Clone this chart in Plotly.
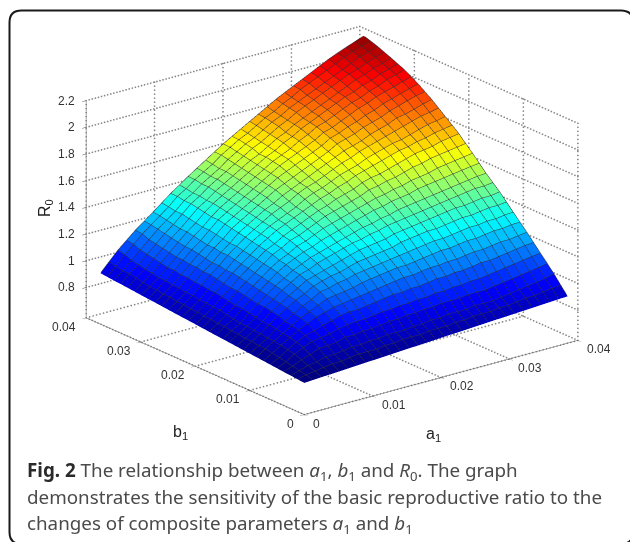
import plotly.graph_objects as go
import numpy as np

a1 = [0,.00128,.00257,.00385,.00513,.00642,.0077,.00898,.01027,.01155,.01283,.01412,.0154,.01668,.01797,.01925,.02053,.02182,.0231,.02438,.02567,.02695,.02823,.02952,.0308,.03208,.03337,.03465,.03593,.03722,.0385]
b1 = [0,.00125,.00249,.00374,.00499,.00623,.00748,.00873,.00997,.01122,.01247,.01371,.01496,.01621,.01745,.0187,.01995,.02119,.02244,.02369,.02493,.02618,.02743,.02867,.02992,.03117,.03241,.03366,.03491,.03615,.0374]
R0 = [
[.81,.814,.818,.821,.825,.829,.833,.837,.84,.844,.848,.852,.856,.859,.863,.867,.871,.875,.878,.882,.886,.89,.894,.897,.901,.905,.909,.913,.916,.92,.924],
[.815,.83,.84,.85,.86,.86,.87,.88,.88,.88,.89,.89,.90,.90,.90,.91,.91,.91,.92,.92,.93,.93,.93,.94,.94,.95,.96,.96,.97,.98,.985],
[.82,.84,.86,.87,.89,.89,.90,.91,.91,.92,.92,.93,.93,.93,.94,.94,.95,.95,.96,.96,.96,.97,.97,.97,.98,.99,1.0,1.01,1.02,1.03,1.047],
[.824,.85,.88,.90,.93,.93,.94,.96,.96,.97,.97,.98,.99,.99,1.0,1.0,1.01,1.01,1.02,1.02,1.02,1.03,1.03,1.03,1.04,1.05,1.06,1.07,1.08,1.09,1.103],
[.829,.86,.90,.93,.96,.97,.98,1.0,1.01,1.02,1.02,1.03,1.04,1.04,1.05,1.05,1.06,1.06,1.07,1.07,1.08,1.08,1.09,1.09,1.10,1.11,1.12,1.13,1.14,1.15,1.158],
[.834,.87,.91,.95,.98,1.0,1.02,1.04,1.06,1.07,1.07,1.08,1.09,1.10,1.11,1.11,1.12,1.12,1.13,1.14,1.14,1.15,1.15,1.16,1.17,1.17,1.18,1.19,1.20,1.21,1.214],
[.839,.88,.92,.96,1.0,1.03,1.06,1.08,1.10,1.11,1.12,1.13,1.14,1.15,1.16,1.17,1.18,1.18,1.19,1.20,1.20,1.21,1.21,1.22,1.23,1.23,1.24,1.25,1.25,1.26,1.269],
[.844,.89,.93,.97,1.01,1.05,1.08,1.11,1.14,1.15,1.16,1.17,1.19,1.20,1.21,1.22,1.23,1.23,1.24,1.25,1.26,1.27,1.27,1.28,1.29,1.29,1.30,1.31,1.31,1.32,1.322],
[.848,.89,.93,.98,1.02,1.06,1.10,1.13,1.17,1.18,1.20,1.21,1.23,1.24,1.25,1.26,1.27,1.28,1.29,1.30,1.31,1.32,1.32,1.33,1.34,1.35,1.35,1.36,1.36,1.37,1.374],
[.853,.90,.94,.99,1.04,1.08,1.12,1.15,1.19,1.21,1.23,1.24,1.26,1.28,1.29,1.30,1.31,1.32,1.34,1.35,1.36,1.37,1.37,1.38,1.39,1.40,1.40,1.41,1.42,1.42,1.428],
[.858,.90,.94,.99,1.05,1.09,1.13,1.17,1.21,1.23,1.25,1.27,1.29,1.31,1.33,1.34,1.35,1.36,1.38,1.39,1.40,1.41,1.42,1.43,1.44,1.45,1.45,1.46,1.47,1.47,1.481],
[.863,.91,.95,1.0,1.06,1.10,1.15,1.19,1.23,1.25,1.28,1.30,1.32,1.34,1.36,1.37,1.39,1.40,1.42,1.43,1.44,1.45,1.46,1.47,1.48,1.49,1.50,1.51,1.52,1.52,1.528],
[.868,.91,.95,1.01,1.06,1.11,1.16,1.20,1.24,1.27,1.30,1.32,1.34,1.36,1.38,1.40,1.42,1.43,1.45,1.46,1.48,1.49,1.50,1.51,1.52,1.53,1.54,1.55,1.56,1.57,1.575],
[.872,.92,.96,1.02,1.07,1.12,1.17,1.22,1.26,1.29,1.32,1.34,1.37,1.39,1.41,1.43,1.45,1.47,1.49,1.50,1.52,1.53,1.54,1.56,1.57,1.58,1.59,1.60,1.61,1.62,1.628],
[.877,.92,.97,1.02,1.08,1.13,1.18,1.23,1.27,1.30,1.34,1.36,1.39,1.42,1.44,1.46,1.48,1.50,1.52,1.54,1.55,1.57,1.58,1.60,1.61,1.62,1.64,1.65,1.66,1.67,1.68],
[.882,.93,.98,1.03,1.09,1.14,1.19,1.24,1.29,1.32,1.36,1.38,1.41,1.44,1.47,1.49,1.51,1.53,1.55,1.58,1.59,1.61,1.62,1.64,1.66,1.67,1.69,1.70,1.71,1.72,1.73],
[.887,.93,.98,1.04,1.09,1.15,1.20,1.25,1.30,1.33,1.37,1.40,1.43,1.46,1.49,1.51,1.54,1.56,1.58,1.61,1.63,1.64,1.66,1.68,1.70,1.72,1.73,1.74,1.76,1.77,1.781],
[.892,.94,.99,1.05,1.10,1.16,1.21,1.26,1.31,1.35,1.39,1.42,1.45,1.48,1.51,1.54,1.56,1.59,1.61,1.64,1.66,1.68,1.70,1.72,1.74,1.75,1.77,1.78,1.80,1.81,1.823],
[.896,.94,.99,1.05,1.11,1.16,1.22,1.27,1.32,1.36,1.40,1.43,1.46,1.49,1.53,1.56,1.58,1.61,1.64,1.66,1.68,1.71,1.73,1.75,1.77,1.78,1.80,1.82,1.84,1.85,1.864],
[.901,.95,1.0,1.06,1.12,1.17,1.23,1.28,1.33,1.37,1.41,1.45,1.48,1.51,1.55,1.58,1.60,1.63,1.66,1.69,1.71,1.74,1.76,1.78,1.80,1.82,1.84,1.86,1.88,1.89,1.906],
[.906,.95,1.0,1.06,1.12,1.17,1.23,1.28,1.34,1.38,1.42,1.46,1.49,1.53,1.56,1.59,1.62,1.65,1.68,1.71,1.74,1.76,1.78,1.81,1.83,1.85,1.88,1.89,1.91,1.93,1.947],
[.911,.96,1.01,1.07,1.13,1.18,1.24,1.29,1.35,1.39,1.43,1.47,1.51,1.55,1.58,1.61,1.64,1.67,1.70,1.73,1.77,1.79,1.81,1.84,1.86,1.88,1.91,1.93,1.95,1.97,1.983],
[.916,.96,1.01,1.07,1.13,1.19,1.24,1.30,1.36,1.40,1.44,1.48,1.52,1.56,1.60,1.63,1.66,1.69,1.72,1.75,1.79,1.81,1.84,1.86,1.89,1.91,1.94,1.96,1.98,2.0,2.019],
[.92,.97,1.02,1.08,1.14,1.20,1.25,1.31,1.37,1.41,1.45,1.49,1.53,1.57,1.61,1.65,1.68,1.71,1.74,1.77,1.81,1.83,1.86,1.89,1.92,1.94,1.97,1.99,2.01,2.03,2.049],
[.925,.97,1.02,1.08,1.14,1.20,1.26,1.31,1.37,1.42,1.46,1.50,1.54,1.58,1.62,1.66,1.69,1.72,1.76,1.79,1.83,1.85,1.88,1.91,1.94,1.96,1.99,2.01,2.04,2.06,2.079],
[.93,.98,1.03,1.09,1.15,1.21,1.27,1.32,1.38,1.43,1.47,1.51,1.55,1.59,1.63,1.67,1.70,1.74,1.77,1.81,1.84,1.87,1.90,1.93,1.96,1.98,2.01,2.03,2.06,2.08,2.101],
[.935,.99,1.04,1.10,1.16,1.22,1.27,1.33,1.39,1.43,1.48,1.52,1.56,1.60,1.64,1.67,1.71,1.75,1.78,1.82,1.85,1.88,1.91,1.94,1.97,2.0,2.03,2.05,2.08,2.10,2.123],
[.94,1.0,1.05,1.11,1.17,1.23,1.28,1.34,1.40,1.44,1.49,1.53,1.57,1.61,1.65,1.69,1.72,1.76,1.80,1.83,1.87,1.90,1.93,1.96,1.99,2.02,2.05,2.07,2.10,2.12,2.144],
[.944,1.0,1.06,1.12,1.18,1.24,1.29,1.34,1.40,1.44,1.49,1.53,1.57,1.62,1.66,1.70,1.73,1.77,1.81,1.84,1.88,1.91,1.94,1.97,2.0,2.03,2.06,2.09,2.12,2.14,2.165],
[.949,1.01,1.08,1.14,1.20,1.25,1.30,1.35,1.41,1.45,1.50,1.54,1.58,1.63,1.67,1.71,1.74,1.78,1.82,1.85,1.89,1.92,1.96,1.99,2.02,2.05,2.08,2.11,2.14,2.16,2.182],
[.954,1.023,1.092,1.149,1.206,1.256,1.305,1.357,1.409,1.455,1.501,1.545,1.588,1.631,1.674,1.712,1.75,1.788,1.825,1.863,1.901,1.934,1.966,1.998,2.03,2.063,2.095,2.122,2.148,2.173,2.198],
]
zticks = [0.8,1,1.2,1.4,1.6,1.8,2,2.2]
ztext = ['0.8','1','1.2','1.4','1.6','1.8','2','2.2']
xyticks = [0,0.01,0.02,0.03,0.04]
xytext = ['0','0.01','0.02','0.03','0.04']
zfloor = 0.573
caption = ["<b><span style='color:#2a2a2a'>Fig. 2</span></b> The relationship between <i>a</i><sub>1</sub>, <i>b</i><sub>1</sub> and <i>R</i><sub>0</sub>. The graph",
           "demonstrates the sensitivity of the basic reproductive ratio to the",
           "changes of composite parameters <i>a</i><sub>1</sub> and <i>b</i><sub>1</sub>"]
W,H=630,542
def jetc(v):
    v=max(0,min(1,v))
    r=np.interp(v,[0,.375,.625,.875,1],[0,0,1,1,.5])
    g=np.interp(v,[0,.125,.375,.625,.875],[0,0,1,1,0])
    b=np.interp(v,[0,.125,.375,.625,1],[.5,1,1,0,0])
    return 'rgb(%d,%d,%d)'%(r*255,g*255,b*255)
Z=np.array(R0); A=np.array(a1); B=np.array(b1)
zmin,zmax=Z.min(),Z.max()
xs=[];ys=[];zs=[];I=[];J=[];K=[];fc=[]
n=len(A);m=len(B)
for j in range(m):
    for i in range(n):
        xs.append(A[i]);ys.append(B[j]);zs.append(Z[j,i])
for j in range(m-1):
    for i in range(n-1):
        p=j*n+i
        c=jetc((Z[j,i]-zmin)/(zmax-zmin))
        I+=[p,p];J+=[p+1,p+n+1];K+=[p+n+1,p+n];fc+=[c,c]
fig=go.Figure()
fig.add_trace(go.Mesh3d(x=xs,y=ys,z=zs,i=I,j=J,k=K,facecolor=fc,flatshading=True,
    lighting=dict(ambient=1,diffuse=0,specular=0,roughness=1,fresnel=0),hoverinfo='skip',showscale=False))
th=np.radians(38);ph=np.radians(20.3);k=2.0
ev=np.array([-np.sin(th)*np.cos(ph),-np.cos(th)*np.cos(ph),np.sin(ph)])
d=0.006
ox,oy,oz=ev[0]*d*0.04,ev[1]*d*0.04,ev[2]*d*(2.2-zfloor)/0.655
lx=[];ly=[];lz=[]
for j in range(m):
    lx+=list(A+ox)+[None];ly+=[B[j]+oy]*n+[None];lz+=list(Z[j]+oz)+[None]
for i in range(n):
    lx+=[A[i]+ox]*m+[None];ly+=list(B+oy)+[None];lz+=list(Z[:,i]+oz)+[None]
fig.add_trace(go.Scatter3d(x=lx,y=ly,z=lz,mode='lines',line=dict(color='rgb(50,50,60)',width=1),hoverinfo='skip',showlegend=False))
def dots(p,q,count):
    t=np.linspace(0,1,count)
    return [p[0]+(q[0]-p[0])*t,p[1]+(q[1]-p[1])*t,p[2]+(q[2]-p[2])*t]
segs=[]
for t in xyticks:
    segs.append(((t,0,zfloor),(t,0.04,zfloor),75))
    segs.append(((t,0.04,zfloor),(t,0.04,2.2),55))
    segs.append(((0,t,zfloor),(0.04,t,zfloor),80))
    segs.append(((0.04,t,zfloor),(0.04,t,2.2),55))
for t in zticks:
    segs.append(((0,0.04,t),(0.04,0.04,t),90))
    segs.append(((0.04,0.04,t),(0.04,0,t),75))
pts=[dots(*s) for s in segs]
gx=np.concatenate([p[0] for p in pts]);gy=np.concatenate([p[1] for p in pts]);gz=np.concatenate([p[2] for p in pts])
fig.add_trace(go.Scatter3d(x=gx,y=gy,z=gz,mode='markers',marker=dict(color='#888',size=1,line=dict(width=0)),hoverinfo='skip',showlegend=False))
ax=dict(showgrid=False,zeroline=False,showbackground=False,showspikes=False,ticks='outside',ticklen=5,tickcolor='#555',
        showline=True,linecolor='#555',linewidth=1,showticklabels=False,title=dict(text=''))
eye=dict(x=ev[0]*k,y=ev[1]*k,z=ev[2]*k)
tf=dict(family='Liberation Sans',size=12,color='#333')
sa=[]
for t,s in zip(xyticks,xytext):
    sa.append(dict(x=t,y=0,z=zfloor,text=s,xanchor='left',xshift=7,yshift=-9,font=tf,showarrow=False))
    sa.append(dict(x=0,y=t,z=zfloor,text=s,xanchor='right',xshift=-8,yshift=-9,font=tf,showarrow=False))
for t,s in zip(zticks,ztext):
    sa.append(dict(x=0,y=0.04,z=t,text=s,xanchor='right',xshift=-9,yshift=0,font=tf,showarrow=False))
lf=dict(family='Liberation Sans',size=16,color='#222')
anns=[dict(text='b<sub>1</sub>',x=180/W,y=1-432/H,font=lf,xanchor='center',yanchor='middle'),
      dict(text='a<sub>1</sub>',x=433/W,y=1-434/H,font=lf,xanchor='center',yanchor='middle'),
      dict(text='R<sub>0</sub>',x=45/W,y=1-208/H,textangle=-90,font=lf,xanchor='center',yanchor='middle')]
for i,c in enumerate(caption):
    anns.append(dict(text=c,x=25/W,y=1-(455+26.7*i)/H,xanchor='left',yanchor='top',font=dict(family='Noto Sans',size=18.8,color='#4a4a4a')))
for a in anns:
    a.update(xref='paper',yref='paper',showarrow=False)
L,T,Rr,Bb,r=9.5/W,1-10.5/H,633/W,1-544/H,12
rx,ry=r/W,r/H
path=f"M{L},{Bb+ry} L{L},{T-ry} Q{L},{T} {L+rx},{T} L{Rr-rx},{T} Q{Rr},{T} {Rr},{T-ry} L{Rr},{Bb+ry} Q{Rr},{Bb} {Rr-rx},{Bb} L{L+rx},{Bb} Q{L},{Bb} {L},{Bb+ry} Z"
fig.update_layout(width=W,height=H,margin=dict(l=0,r=0,t=0,b=0),paper_bgcolor='white',showlegend=False,annotations=anns,
  shapes=[dict(type='path',xref='paper',yref='paper',path=path,line=dict(color='#1a1a1a',width=2))],
  scene=dict(domain=dict(x=[36/W,628/W],y=[1-441/H,1]),annotations=sa,
    xaxis=dict(ax,range=[0,0.04],tickvals=xyticks),
    yaxis=dict(ax,range=[0,0.04],tickvals=xyticks),
    zaxis=dict(ax,range=[zfloor,2.2],tickvals=zticks),
    aspectmode='manual',aspectratio=dict(x=1.575,y=1.606,z=1.05),
    camera=dict(eye=eye,up=dict(x=0,y=0,z=1),center=dict(x=0,y=0,z=0),projection=dict(type='orthographic'))))
fig.write_html('out.html',config=dict(displayModeBar=False),post_script="document.body.style.margin='0';document.body.style.overflow='hidden';")
